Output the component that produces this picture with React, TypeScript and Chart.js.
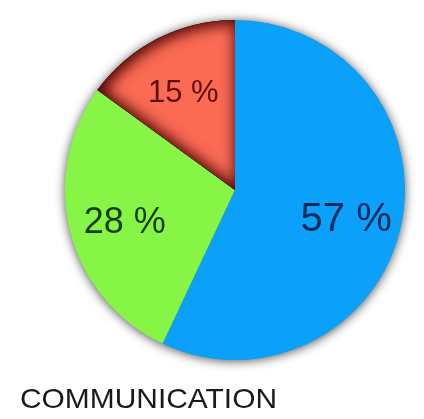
import React, { useEffect, useRef } from "react";
import { Chart, registerables } from "chart.js";

Chart.register(...registerables);

const categories = ["Blue", "Green", "Red"];
const values = [57, 28, 15];
const labelTexts = ["57 %", "28 %", "15 %"];
const sliceColors = ["#0ba0f9", "#86f545", "#fb6b54"];
const labelColors = ["#0b2a58", "#143c0e", "#5c100c"];
const labelSizes = [40, 36, 31];
const titleText = "COMMUNICATION";

const pieShadow = {
  id: "pieShadow",
  beforeDatasetsDraw(chart: any) {
    const meta = chart.getDatasetMeta(0);
    const a = meta.data[0];
    if (!a) return;
    const ctx = chart.ctx;
    ctx.save();
    ctx.shadowColor = "rgba(0,0,0,0.75)";
    ctx.shadowBlur = 11;
    ctx.shadowOffsetX = 0;
    ctx.shadowOffsetY = 1;
    ctx.fillStyle = "#444";
    ctx.beginPath();
    ctx.arc(a.x, a.y, a.outerRadius - 0.5, 0, Math.PI * 2);
    ctx.fill();
    ctx.restore();
  },
  afterDatasetsDraw(chart: any) {
    const meta = chart.getDatasetMeta(0);
    const ctx = chart.ctx;
    // inner shadow on the red slice
    const r = meta.data[2];
    if (r) {
      for (let k = 0; k < 2; k++) {
        ctx.save();
        ctx.beginPath();
        ctx.moveTo(r.x, r.y);
        ctx.arc(r.x, r.y, r.outerRadius, r.startAngle, r.endAngle);
        ctx.closePath();
        ctx.clip();
        ctx.beginPath();
        ctx.rect(0, 0, chart.width, chart.height);
        ctx.moveTo(r.x, r.y);
        ctx.arc(r.x, r.y, r.outerRadius, r.startAngle, r.endAngle);
        ctx.closePath();
        ctx.shadowColor = "rgba(70,0,0,0.8)";
        ctx.shadowBlur = 16;
        ctx.shadowOffsetX = 3;
        ctx.shadowOffsetY = 1;
        ctx.fillStyle = "#000";
        ctx.fill("evenodd");
        ctx.restore();
      }
    }
    // labels
    meta.data.forEach((arc: any, i: number) => {
      const mid = (arc.startAngle + arc.endAngle) / 2;
      const rr = arc.outerRadius * 0.67;
      const x = arc.x + Math.cos(mid) * rr;
      const y = arc.y + Math.sin(mid) * rr;
      ctx.save();
      ctx.font = `${labelSizes[i]}px "Liberation Sans", Arial, sans-serif`;
      ctx.fillStyle = labelColors[i];
      ctx.textAlign = "center";
      ctx.textBaseline = "middle";
      ctx.fillText(labelTexts[i], x, y + 5);
      ctx.restore();
    });
    // title
    ctx.save();
    ctx.font = `28px "Liberation Sans", Arial, sans-serif`;
    ctx.fillStyle = "#1a1a1a";
    ctx.textAlign = "left";
    ctx.textBaseline = "alphabetic";
    const w = ctx.measureText(titleText).width;
    ctx.translate(20, 408);
    ctx.scale(257 / w, 1);
    ctx.fillText(titleText, 0, 0);
    ctx.restore();
  },
};

export default function App() {
  const ref = useRef<HTMLCanvasElement>(null);
  useEffect(() => {
    document.body.style.margin = "0";
    document.body.style.background = "#ffffff";
    const chart = new Chart(ref.current!, {
      type: "pie",
      data: {
        labels: categories,
        datasets: [
          {
            data: values,
            backgroundColor: sliceColors,
            borderWidth: 0,
          },
        ],
      },
      options: {
        animation: false,
        responsive: false,
        layout: { padding: { left: 65, right: 19, top: 20, bottom: 59 } },
        plugins: {
          legend: { display: false },
          tooltip: { enabled: false },
        },
      },
      plugins: [pieShadow],
    });
    return () => chart.destroy();
  }, []);
  return (
    <div style={{ width: 424, height: 419, background: "#fff" }}>
      <canvas ref={ref} width={424} height={419} style={{ display: "block" }} />
    </div>
  );
}
